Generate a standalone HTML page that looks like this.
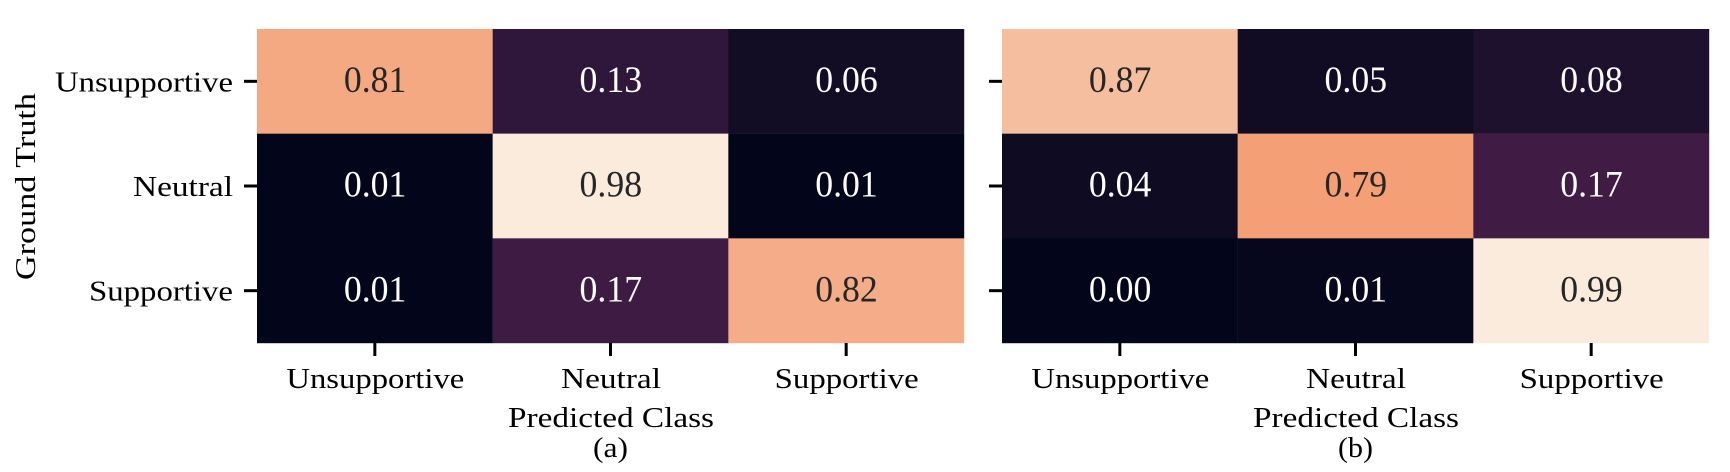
<!DOCTYPE html>
<html>
<head>
<meta charset="utf-8">
<title>Confusion matrices</title>
<style>
html,body{margin:0;padding:0;background:#fff;width:1730px;height:472px;overflow:hidden}
svg{display:block}
text{font-family:"Liberation Serif",serif;fill:#000}
</style>
</head>
<body>
<svg id="chart" xmlns="http://www.w3.org/2000/svg" width="1730" height="472" viewBox="0 0 1730 472"></svg>
<script>
const categories = ['Unsupportive', 'Neutral', 'Supportive'];
const matrixA = [
  [0.81, 0.13, 0.06],
  [0.01, 0.98, 0.01],
  [0.01, 0.17, 0.82]
];
const matrixB = [
  [0.87, 0.05, 0.08],
  [0.04, 0.79, 0.17],
  [0.00, 0.01, 0.99]
];
const xAxisTitle = 'Predicted Class';
const yAxisTitle = 'Ground Truth';
const captions = ['(a)', '(b)'];
const rocketStops = ['#03051a', '#110c24', '#251434', '#391a40', '#4a1d48', '#5d1e50', '#701f57', '#861e5b', '#9d1b5c', '#b41b55', '#cb1b4f', '#de2a48', '#ed3e40', '#f15a48', '#f37651', '#f48b62', '#f5a077', '#f5b390', '#f5c6a9', '#f8d9c3', '#faebdd'];

const NS = 'http://www.w3.org/2000/svg';
const svg = document.getElementById('chart');
const TOP = 29, CELL_H = 104.67, CELL_W = 235.67;
const LABEL_W = { Unsupportive: 178, Neutral: 100, Supportive: 144 };

function hex(c) {
  return [1, 3, 5].map(i => parseInt(c.substr(i, 2), 16));
}
function rocket(t0) {
  const t = Math.max(0, Math.min(1, t0)) * (rocketStops.length - 1);
  const i = Math.min(Math.floor(t), rocketStops.length - 2);
  const a = hex(rocketStops[i]), b = hex(rocketStops[i + 1]), f = t - i;
  return 'rgb(' + a.map((x, k) => Math.round(x + (b[k] - x) * f)).join(',') + ')';
}
function make(tag, attrs) {
  const el = document.createElementNS(NS, tag);
  Object.keys(attrs).forEach(k => el.setAttribute(k, attrs[k]));
  return el;
}
function label(parent, str, x, y, size, width, anchor) {
  const t = make('text', { x: x, y: y, 'font-size': size, 'text-anchor': anchor, textLength: width, lengthAdjust: 'spacingAndGlyphs' });
  t.textContent = str;
  parent.appendChild(t);
  return t;
}
function yScale(row) {
  return TOP + row * CELL_H;
}

function drawPanel(matrix, left, caption, showYLabels, key) {
  const xScale = col => left + col * CELL_W;
  const flat = matrix.reduce((acc, r) => acc.concat(r), []);
  const vmin = Math.min.apply(null, flat), vmax = Math.max.apply(null, flat);
  const norm = v => (vmax > vmin ? (v - vmin) / (vmax - vmin) : 0);
  const g = make('g', {});
  
  
  svg.appendChild(g);

  matrix.forEach((rowVals, r) => {
    rowVals.forEach((v, c) => {
      const rect = make('rect', { x: xScale(c), y: yScale(r), width: CELL_W + 0.2, height: CELL_H + 0.2, fill: rocket(norm(v)) });
      
      
      g.appendChild(rect);
    });
  });
  matrix.forEach((rowVals, r) => {
    rowVals.forEach((v, c) => {
      const t = label(g, v.toFixed(2), xScale(c + 0.5) + 0.3, yScale(r + 0.5) + 10.7, 37, 62.5, 'middle');
      t.style.fill = norm(v) > 0.5 ? '#262626' : '#ffffff';
      
      
    });
  });

  categories.forEach((name, i) => {
    const cx = xScale(i + 0.5);
    const cy = yScale(i + 0.5);
    const xt = make('rect', { x: cx - 1.5, y: yScale(3), width: 3, height: 13, fill: '#000' });
    
    
    g.appendChild(xt);
    const yt = make('rect', { x: left - 13, y: cy - 1.5, width: 13, height: 3, fill: '#000' });
    
    
    g.appendChild(yt);

    const xl = label(g, name, cx + 0.5, 388, 28, LABEL_W[name], 'middle');
    
    
    if (showYLabels) {
      const yl = label(g, name, left - 24, cy + 10, 28, LABEL_W[name], 'end');
      
      
    }
  });

  const mid = xScale(1.5);
  const xTitle = label(g, xAxisTitle, mid + 0.5, 427, 28, 206, 'middle');
  
  
  const cap = label(g, caption, mid, 457, 28, 35, 'middle');
  
  
}

drawPanel(matrixA, 257, captions[0], true, 'a');
drawPanel(matrixB, 1002, captions[1], false, 'b');

const yTitle = make('text', { x: 0, y: 0, 'font-size': 28, 'text-anchor': 'middle', textLength: 187, lengthAdjust: 'spacingAndGlyphs', transform: 'translate(35,186.5) rotate(-90)' });
yTitle.textContent = yAxisTitle;


svg.appendChild(yTitle);
</script>
</body>
</html>
